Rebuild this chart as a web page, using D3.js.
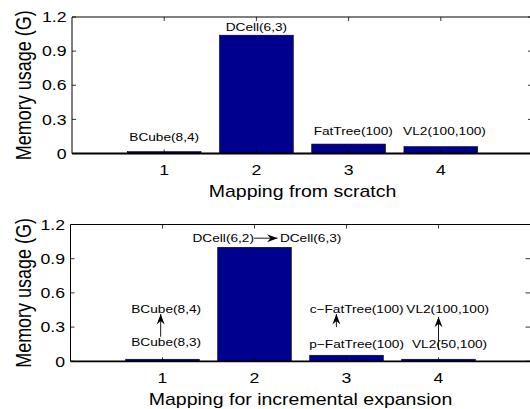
<!DOCTYPE html>
<html>
<head>
<meta charset="utf-8">
<script src="https://cdn.jsdelivr.net/npm/d3@7.9.0/dist/d3.min.js"></script>
<style>
  html, body { margin: 0; padding: 0; background: #fff; overflow: hidden; }
  svg { display: block; font-family: "Liberation Sans", Arial, sans-serif; }
</style>
</head>
<body>
<svg id="chart" width="530" height="409"></svg>
<script>
// values (memory in G)
const categories = [1, 2, 3, 4];
const scratchMemory = [0.016, 1.04, 0.083, 0.06];
const incrementalMemory = [0.018, 1.0, 0.053, 0.018];
const yTicks = [0, 0.3, 0.6, 0.9, 1.2];
const xTitles = ['Mapping from scratch', 'Mapping for incremental expansion'];
const yTitle = 'Memory usage (G)';

// text annotations, anchored in data units
const scratchNotes = [
  { text: 'BCube(8,4)', x: 1.0, y: 0.11 },
  { text: 'DCell(6,3)', x: 2.0, y: 1.075 },
  { text: 'FatTree(100)', x: 3.05, y: 0.165 },
  { text: 'VL2(100,100)', x: 4.04, y: 0.165 }
];
const incrementalNotes = [
  { text: 'BCube(8,4)', x: 1.04, y: 0.42 },
  { text: 'BCube(8,3)', x: 1.04, y: 0.13 },
  { text: 'DCell(6,2)', x: 1.66, y: 1.05 },
  { text: 'DCell(6,3)', x: 2.61, y: 1.05 },
  { text: 'c\u2212FatTree(100)', x: 3.11, y: 0.42 },
  { text: 'p\u2212FatTree(100)', x: 3.11, y: 0.12 },
  { text: 'VL2(100,100)', x: 4.1, y: 0.42 },
  { text: 'VL2(50,100)', x: 4.12, y: 0.12 }
];
const incrementalArrows = [
  { x1: 0.98, y1: 0.215, x2: 0.98, y2: 0.415 },
  { x1: 1.995, y1: 1.08, x2: 2.25, y2: 1.08 },
  { x1: 2.89, y1: 0.3, x2: 2.89, y2: 0.415 },
  { x1: 4.0, y1: 0.1, x2: 4.0, y2: 0.39 }
];

const SX = 1.22; // the figure is stretched horizontally
const svg = d3.select('#chart');

svg.append('defs').append('marker')
  .attr('id', 'head')
  .attr('markerUnits', 'userSpaceOnUse')
  .attr('viewBox', '-11 -4.5 12 9')
  .attr('refX', 0).attr('refY', 0)
  .attr('markerWidth', 12).attr('markerHeight', 9)
  .attr('orient', 'auto')
  .append('path')
  .attr('d', 'M0,0 L-10.5,-4 L-7,0 L-10.5,4 Z')
  .attr('fill', '#000');

function stretched(g, x, y, txt, size) {
  return g.append('text')
    .attr('transform', `translate(${x},${y}) scale(${SX},1)`)
    .attr('font-size', size)
    .attr('fill', '#000')
    .text(txt);
}

function drawPanel(p) {
  const x = d3.scaleLinear().domain([0, 5]).range([p.left, p.right]);
  const y = d3.scaleLinear().domain([0, 1.2]).range([p.bottom, p.top]);
  const bw = (x(1) - x(0)) * 0.8;
  const g = svg.append('g');

  g.selectAll('rect.bar')
    .data(p.values)
    .join('rect')
    .attr('class', 'bar')
    .attr('x', (d, i) => x(categories[i]) - bw / 2)
    .attr('y', d => y(d))
    .attr('width', bw)
    .attr('height', d => y(0) - y(d))
    .attr('fill', '#00008f')
    .attr('stroke', '#000')
    .attr('stroke-width', 0.6);

  // box
  g.append('line').attr('x1', x(0)).attr('x2', x(5)).attr('y1', y(1.2)).attr('y2', y(1.2))
    .attr('stroke', '#000').attr('stroke-width', 1);
  g.append('line').attr('x1', x(0)).attr('x2', x(0)).attr('y1', y(0)).attr('y2', y(1.2))
    .attr('stroke', '#000').attr('stroke-width', 1);
  g.append('line').attr('x1', x(5)).attr('x2', x(5)).attr('y1', y(0)).attr('y2', y(1.2))
    .attr('stroke', '#000').attr('stroke-width', 1);
  g.append('line').attr('x1', x(0)).attr('x2', x(5)).attr('y1', y(0)).attr('y2', y(0))
    .attr('stroke', '#000').attr('stroke-width', 1.8);

  // inward ticks
  categories.forEach(c => {
    g.append('line').attr('x1', x(c)).attr('x2', x(c)).attr('y1', y(0)).attr('y2', y(0) - 4)
      .attr('stroke', '#000').attr('stroke-width', 0.8);
    g.append('line').attr('x1', x(c)).attr('x2', x(c)).attr('y1', y(1.2)).attr('y2', y(1.2) + 4)
      .attr('stroke', '#000').attr('stroke-width', 0.8);
    stretched(g, x(c), y(0) + 21.5, String(c), 14.5).attr('text-anchor', 'middle');
  });
  yTicks.forEach(t => {
    g.append('line').attr('x1', x(0)).attr('x2', x(0) + 4).attr('y1', y(t)).attr('y2', y(t))
      .attr('stroke', '#000').attr('stroke-width', 0.8);
    g.append('line').attr('x1', x(5)).attr('x2', x(5) - 5).attr('y1', y(t)).attr('y2', y(t))
      .attr('stroke', '#000').attr('stroke-width', 0.8);
    stretched(g, x(0) - 5.5, y(t) + 5.2, String(t), 14.5).attr('text-anchor', 'end');
  });

  stretched(g, (x(0) + x(5)) / 2, p.bottom + 43.5, p.xTitle, 16).attr('text-anchor', 'middle');
  g.append('text')
    .attr('transform', `translate(31,${(p.top + p.bottom) / 2}) scale(${SX},1) rotate(-90)`)
    .attr('text-anchor', 'middle')
    .attr('font-size', 18)
    .text(yTitle);

  p.notes.forEach(n => {
    stretched(g, x(n.x), y(n.y), n.text, 11.2).attr('text-anchor', 'middle');
  });
  p.arrows.forEach(a => {
    g.append('line')
      .attr('x1', x(a.x1)).attr('y1', y(a.y1))
      .attr('x2', x(a.x2)).attr('y2', y(a.y2))
      .attr('stroke', '#000').attr('stroke-width', 0.9)
      .attr('marker-end', 'url(#head)');
  });
}

drawPanel({ left: 72, right: 533, top: 17, bottom: 153.5,
  values: scratchMemory, notes: scratchNotes, arrows: [], xTitle: xTitles[0] });
drawPanel({ left: 70.5, right: 530.5, top: 224.5, bottom: 361.3,
  values: incrementalMemory, notes: incrementalNotes, arrows: incrementalArrows, xTitle: xTitles[1] });
</script>
</body>
</html>
